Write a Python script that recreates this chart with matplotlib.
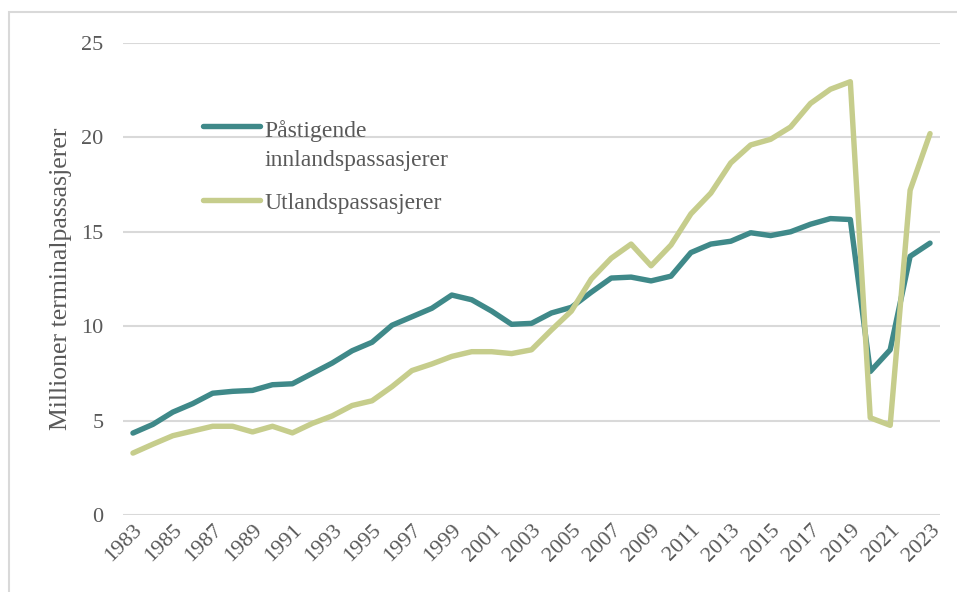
import matplotlib
matplotlib.use("Agg")
import matplotlib.pyplot as plt
from matplotlib.patches import Rectangle
from matplotlib.legend_handler import HandlerLine2D

years = list(range(1983, 2024))
innland = [4.34, 4.8, 5.45, 5.9, 6.45, 6.55, 6.6, 6.9, 6.95, 7.5, 8.05, 8.7, 9.15,
           10.05, 10.5, 10.95, 11.65, 11.4, 10.8, 10.1, 10.15, 10.7, 11.0, 11.8,
           12.55, 12.6, 12.4, 12.65, 13.9, 14.35, 14.5, 14.95, 14.8, 15.0, 15.4,
           15.7, 15.65, 7.6, 8.75, 13.7, 14.4]
utland = [3.28, 3.75, 4.2, 4.45, 4.7, 4.7, 4.4, 4.7, 4.35, 4.85, 5.25, 5.8, 6.05,
          6.8, 7.65, 8.0, 8.4, 8.65, 8.65, 8.55, 8.75, 9.8, 10.8, 12.5, 13.6,
          14.35, 13.2, 14.3, 15.95, 17.05, 18.65, 19.6, 19.9, 20.55, 21.8, 22.55,
          22.95, 5.15, 4.75, 17.2, 20.2]
tick_years = list(range(1983, 2024, 2))
yticks = [0, 5, 10, 15, 20, 25]
label_innland = "Påstigende\ninnlandspassasjerer"
label_utland = "Utlandspassasjerer"
ylabel = "Millioner terminalpassasjerer"


class ShiftHandler(HandlerLine2D):
    def __init__(self, shift=0.0, **kw):
        super().__init__(**kw)
        self.shift = shift

    def create_artists(self, legend, orig_handle, xdescent, ydescent, width, height, fontsize, trans):
        arts = super().create_artists(legend, orig_handle, xdescent, ydescent, width, height, fontsize, trans)
        for a in arts:
            a.set_ydata([y + self.shift * fontsize for y in a.get_ydata()])
        return arts


plt.rcParams['font.family'] = ['Liberation Serif', 'DejaVu Serif']
txt = '#595959'
fig = plt.figure(figsize=(9.57, 5.92), dpi=100)
fig.patches.append(Rectangle((9/957, -0.1), 1.2, (592-12)/592 + 0.1, transform=fig.transFigure,
                             fill=False, edgecolor='#D9D9D9', linewidth=1.5))
ax = fig.add_axes([123/957, 77/592, (940-123)/957, (515-43)/592])
l1, = ax.plot(years, innland, color='#3F8989', lw=3.9, label=label_innland, solid_capstyle='round')
l2, = ax.plot(years, utland, color='#C6CD8C', lw=3.9, label=label_utland, solid_capstyle='round')
ax.set_xlim(1982.5, 2023.5)
ax.set_ylim(0, 25)
ax.set_yticks(yticks)
ax.set_xticks(tick_years)
ax.set_xticklabels([str(y) for y in tick_years], rotation=45, ha='right', rotation_mode='anchor')
ax.grid(axis='y', color='#D9D9D9', lw=1.5)
ax.set_axisbelow(True)
for s in ax.spines.values():
    s.set_visible(False)
ax.tick_params(axis='both', length=0, labelsize=16, colors=txt)
ax.tick_params(axis='y', pad=14)
ax.tick_params(axis='x', pad=4)
ax.set_ylabel(ylabel, fontsize=18.5, color=txt, labelpad=7)
leg = ax.legend(loc='upper left', bbox_to_anchor=(203/957, 1 - 120/592), bbox_transform=fig.transFigure,
                frameon=False, fontsize=17, handlelength=2.4, handletextpad=0.2,
                labelspacing=0.9, borderpad=0, borderaxespad=0,
                handler_map={l1: ShiftHandler(shift=0.8), l2: ShiftHandler(shift=0.0)})
for t in leg.get_texts():
    t.set_color(txt)
    t.set_linespacing(1.5)
fig.savefig('out.png', dpi=100)
